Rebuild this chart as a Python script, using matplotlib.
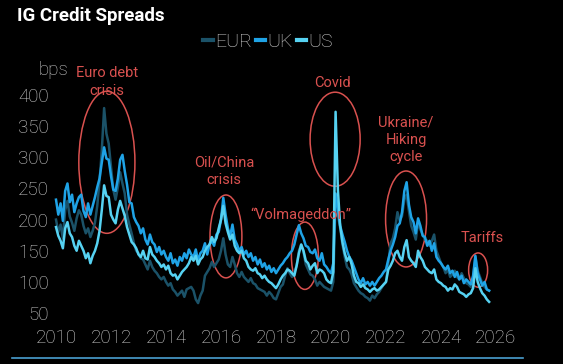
import numpy as np
import matplotlib.pyplot as plt
from matplotlib.patches import Ellipse
from matplotlib.lines import Line2D

# monthly spreads (bps), Jan 2010 .. Oct 2025
eur = [200, 180, 192, 170, 215, 230, 205, 195, 182, 202, 215, 208,
       190, 178, 186, 172, 182, 195, 222, 262, 312, 379, 338, 322,
       285, 248, 232, 252, 276, 258, 242, 208, 192, 178, 162, 150,
       146, 138, 136, 128, 120, 134, 124, 118, 114, 108, 104, 108,
       100, 94, 98, 88, 84, 78, 82, 86, 76, 88, 90, 92,
       86, 72, 66, 78, 86, 110, 116, 122, 132, 124, 130, 136,
       150, 170, 144, 128, 124, 140, 128, 114, 108, 116, 108, 104,
       100, 106, 98, 96, 90, 88, 86, 84, 78, 84, 80, 74,
       72, 82, 92, 96, 110, 122, 114, 108, 116, 126, 150, 160,
       148, 128, 120, 112, 110, 104, 94, 100, 96, 92, 90, 88,
       86, 100, 232, 208, 186, 160, 140, 124, 120, 112, 98, 92,
       86, 82, 80, 76, 74, 70, 78, 74, 80, 84, 90, 96,
       100, 130, 162, 170, 186, 212, 198, 206, 232, 240, 214, 190,
       180, 168, 196, 184, 176, 168, 166, 158, 166, 176, 150, 140,
       130, 124, 114, 120, 108, 112, 118, 108, 104, 114, 106, 98,
       96, 92, 104, 140, 118, 108, 98, 92, 88, 86]

uk = [232, 208, 226, 198, 246, 258, 228, 240, 212, 226, 236, 240,
      214, 204, 226, 208, 222, 236, 252, 266, 292, 316, 298, 296,
      270, 248, 246, 266, 296, 304, 278, 256, 228, 226, 204, 196,
      190, 178, 186, 168, 160, 176, 164, 160, 148, 156, 144, 150,
      140, 134, 146, 130, 136, 126, 140, 134, 146, 138, 152, 144,
      140, 152, 134, 146, 150, 162, 144, 160, 166, 158, 176, 180,
      200, 235, 208, 186, 174, 192, 168, 160, 150, 156, 144, 150,
      140, 146, 134, 140, 128, 136, 124, 130, 120, 126, 116, 122,
      114, 120, 126, 130, 136, 140, 146, 150, 160, 176, 191, 178,
      170, 158, 156, 148, 146, 152, 138, 134, 146, 128, 124, 118,
      114, 130, 242, 218, 190, 176, 164, 150, 140, 134, 124, 114,
      104, 98, 106, 96, 100, 94, 100, 94, 100, 106, 110, 116,
      120, 136, 150, 160, 172, 190, 194, 212, 246, 260, 224, 204,
      196, 178, 202, 190, 174, 172, 158, 166, 150, 162, 140, 134,
      130, 124, 120, 126, 114, 118, 108, 116, 104, 110, 98, 104,
      100, 96, 110, 142, 114, 104, 94, 100, 88, 86]

us = [188, 174, 166, 154, 186, 196, 178, 172, 158, 150, 166, 158,
      150, 138, 146, 130, 142, 150, 162, 182, 216, 255, 238, 236,
      208, 200, 194, 216, 230, 218, 206, 188, 176, 164, 160, 154,
      144, 140, 150, 138, 136, 156, 144, 140, 134, 130, 124, 128,
      120, 126, 114, 110, 112, 104, 110, 116, 120, 124, 130, 140,
      134, 142, 128, 136, 140, 150, 156, 160, 172, 164, 170, 186,
      200, 222, 194, 180, 168, 176, 158, 150, 146, 150, 138, 134,
      124, 120, 118, 122, 114, 112, 106, 110, 104, 100, 98, 94,
      90, 96, 104, 110, 114, 120, 118, 114, 110, 126, 146, 160,
      150, 134, 130, 120, 126, 130, 114, 120, 118, 114, 104, 100,
      98, 116, 373, 248, 190, 164, 146, 134, 140, 128, 110, 100,
      98, 92, 96, 90, 88, 84, 88, 90, 86, 88, 92, 96,
      100, 120, 126, 134, 146, 150, 140, 134, 156, 167, 140, 134,
      130, 124, 150, 140, 134, 124, 120, 116, 114, 120, 104, 100,
      98, 94, 92, 86, 90, 88, 96, 92, 84, 82, 80, 76,
      80, 82, 90, 122, 100, 90, 82, 78, 72, 68]

series_names = ["EUR", "UK", "US"]
series_colors = ["#1b5268", "#1fa3e6", "#56d2f2"]
year_ticks = [2010, 2012, 2014, 2016, 2018, 2020, 2022, 2024, 2026]
bps_ticks = [50, 100, 150, 200, 250, 300, 350, 400]

plt.rcParams['font.family'] = ['Roboto', 'DejaVu Sans']

fig = plt.figure(figsize=(5.63, 3.64), dpi=100, facecolor="black")
ax = fig.add_axes([0.0897, 0.1228, 0.8206, 0.6676])
ax.set_facecolor("black")

years = 2010 + np.arange(len(eur)) / 12.0
handles = []
for name, vals, col in zip(series_names, [eur, uk, us], series_colors):
    ax.plot(years, vals, color=col, lw=1.8)
    handles.append(Line2D([0], [0], color=col, lw=3))

ax.set_xlim(2009.8, 2026.6)
ax.set_ylim(40, 430)
ax.set_xticks(year_ticks)
ax.set_xticklabels([str(y) for y in year_ticks])
ax.set_yticks(bps_ticks)
ax.tick_params(length=0, labelsize=13.5, labelcolor="#d0d0d0")
ax.tick_params(axis="y", pad=1)
ax.tick_params(axis="x", pad=7)
for lab in ax.get_xticklabels() + ax.get_yticklabels():
    lab.set_fontweight("light")
for s in ax.spines.values():
    s.set_visible(False)

red = "#d9514f"
notes = [
    ("Euro debt\ncrisis", 2011.85, 421),
    ("Oil/China\ncrisis", 2016.11, 278),
    ("\u201cVolmageddon\u201d", 2018.91, 207),
    ("Covid", 2020.07, 419),
    ("Ukraine/\nHiking\ncycle", 2022.73, 328),
    ("Tariffs", 2025.49, 170),
]
for txt, x, y in notes:
    ax.text(x, y, txt, color=red, fontsize=10.5, ha="center", va="center",
            linespacing=1.3, clip_on=False)

rings = [
    (2011.85, 292, 2.04, 228),
    (2016.18, 173, 1.16, 133),
    (2019.05, 142, 0.98, 108),
    (2020.15, 329, 1.82, 151),
    (2022.73, 201, 1.49, 154),
    (2025.35, 119, 0.69, 55),
]
for cx, cy, w, h in rings:
    ax.add_patch(Ellipse((cx, cy), w, h, fill=False, edgecolor=red, lw=1.1,
                         clip_on=False))

fig.text(0.030, 0.956, "IG Credit Spreads", color="white", fontsize=13.5,
         fontweight="bold", ha="left", va="center")
fig.text(53 / 563, 1 - 70 / 364, "bps", color="#d0d0d0", fontsize=13.5,
         fontweight="light", ha="center", va="center")

leg = fig.legend(handles, series_names, loc="center", bbox_to_anchor=(0.476, 0.885),
                 ncol=3, frameon=False, handlelength=0.5, handletextpad=0.1,
                 columnspacing=0.2, prop={"size": 14, "weight": "light"})
for t in leg.get_texts():
    t.set_color("#d0d0d0")

fig.add_artist(Line2D([0.021, 0.929], [0.0165, 0.0165], color="#4a9fd0", lw=1.2))

fig.savefig("out.png", dpi=100, facecolor="black")
